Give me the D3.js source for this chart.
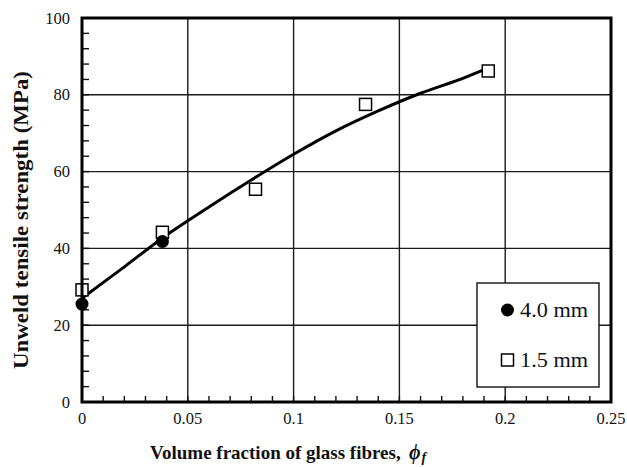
<!DOCTYPE html>
<html>
<head>
<meta charset="utf-8">
<script src="https://cdn.jsdelivr.net/npm/d3@7"></script>
<style>
  body { margin: 0; background: #fff; }
  text { font-family: "Liberation Serif", "Times New Roman", serif; fill: #111; }
</style>
</head>
<body>
<svg id="chart" width="627" height="467"></svg>
<script>
// data
const fibre4 = [[0, 25.5], [0.038, 41.8]];
const fibre15 = [[0, 29.2], [0.038, 44.2], [0.082, 55.4], [0.134, 77.5], [0.192, 86.2]];
const fitCurve = [[0, 27], [0.02, 35.2], [0.04, 43.5], [0.06, 50.8], [0.08, 57.8], [0.1, 64.5],
  [0.12, 70.6], [0.14, 75.8], [0.16, 80.4], [0.18, 84.3], [0.192, 87]];
const xTicks = [0, 0.05, 0.1, 0.15, 0.2, 0.25];
const yTicks = [0, 20, 40, 60, 80, 100];
const legendLabels = ['4.0 mm', '1.5 mm'];

const svg = d3.select('#chart');
const pLeft = 82, pRight = 611, pTop = 18, pBottom = 402;

const x = d3.scaleLinear().domain([0, 0.25]).range([pLeft, pRight]);
const y = d3.scaleLinear().domain([0, 100]).range([pBottom, pTop]);

// grid
svg.append('g')
  .selectAll('line')
  .data(xTicks.slice(1, -1))
  .join('line')
  .attr('x1', d => x(d)).attr('x2', d => x(d))
  .attr('y1', pTop).attr('y2', pBottom)
  .attr('stroke', '#1a1a1a').attr('stroke-width', 1.4);

svg.append('g')
  .selectAll('line')
  .data(yTicks.slice(1, -1))
  .join('line')
  .attr('x1', pLeft).attr('x2', pRight)
  .attr('y1', d => y(d)).attr('y2', d => y(d))
  .attr('stroke', '#1a1a1a').attr('stroke-width', 1.4);

// minor ticks, pointing inward
const xMinor = d3.range(0, 0.2501, 0.01);
const yMinor = d3.range(0, 100.01, 4);

svg.append('g')
  .selectAll('line')
  .data(xMinor)
  .join('line')
  .attr('x1', d => x(d)).attr('x2', d => x(d))
  .attr('y1', pBottom).attr('y2', pBottom - 6)
  .attr('stroke', '#111').attr('stroke-width', 1.4);

svg.append('g')
  .selectAll('line')
  .data(yMinor)
  .join('line')
  .attr('x1', pLeft).attr('x2', pLeft + 7)
  .attr('y1', d => y(d)).attr('y2', d => y(d))
  .attr('stroke', '#111').attr('stroke-width', 1.4);

// tick labels
svg.append('g')
  .selectAll('text')
  .data(xTicks)
  .join('text')
  .attr('x', d => x(d))
  .attr('y', 424)
  .attr('text-anchor', 'middle')
  .attr('font-size', 16.5)
  .text(d => d);

svg.append('g')
  .selectAll('text')
  .data(yTicks)
  .join('text')
  .attr('x', 70)
  .attr('y', d => y(d) + 5.5)
  .attr('text-anchor', 'end')
  .attr('font-size', 16.5)
  .text(d => d);

// fitted curve
svg.append('path')
  .datum(fitCurve)
  .attr('d', d3.line().x(d => x(d[0])).y(d => y(d[1])).curve(d3.curveCatmullRom))
  .attr('fill', 'none')
  .attr('stroke', '#000')
  .attr('stroke-width', 3);

// markers
svg.append('g')
  .selectAll('rect')
  .data(fibre15)
  .join('rect')
  .attr('x', d => x(d[0]) - 6)
  .attr('y', d => y(d[1]) - 6)
  .attr('width', 12).attr('height', 12)
  .attr('fill', '#fff')
  .attr('stroke', '#000').attr('stroke-width', 1.5);

svg.append('g')
  .selectAll('circle')
  .data(fibre4)
  .join('circle')
  .attr('cx', d => x(d[0]))
  .attr('cy', d => y(d[1]))
  .attr('r', 6.5)
  .attr('fill', '#000');

// frame
svg.append('rect')
  .attr('x', pLeft).attr('y', pTop)
  .attr('width', pRight - pLeft).attr('height', pBottom - pTop)
  .attr('fill', 'none')
  .attr('stroke', '#000').attr('stroke-width', 3);

// legend
const lg = svg.append('g');
lg.append('rect')
  .attr('x', 477).attr('y', 283)
  .attr('width', 122).attr('height', 104)
  .attr('fill', '#fff')
  .attr('stroke', '#111').attr('stroke-width', 1.4);
lg.append('circle').attr('cx', 507.5).attr('cy', 310).attr('r', 6.5).attr('fill', '#000');
lg.append('rect').attr('x', 501.5).attr('y', 354).attr('width', 12).attr('height', 12)
  .attr('fill', '#fff').attr('stroke', '#000').attr('stroke-width', 1.5);
lg.selectAll('text')
  .data(legendLabels)
  .join('text')
  .attr('x', 520)
  .attr('y', (d, i) => 317 + i * 50)
  .attr('font-size', 21)
  .attr('textLength', 68)
  .attr('lengthAdjust', 'spacingAndGlyphs')
  .text(d => d);

// axis titles
svg.append('text')
  .attr('x', 150)
  .attr('y', 459)
  .attr('font-size', 19)
  .attr('font-weight', 'bold')
  .text('Volume fraction of glass fibres,');

const phi = svg.append('text')
  .attr('x', 409)
  .attr('y', 459)
  .attr('font-size', 20)
  .attr('font-weight', 'bold')
  .attr('font-style', 'italic');
phi.append('tspan').text('ϕ');
phi.append('tspan').attr('font-size', 14).attr('dy', 3).attr('dx', 1).text('f');

svg.append('text')
  .attr('transform', 'translate(28,220) rotate(-90)')
  .attr('text-anchor', 'middle')
  .attr('font-size', 22)
  .attr('font-weight', 'bold')
  .attr('textLength', 298)
  .attr('lengthAdjust', 'spacingAndGlyphs')
  .text('Unweld tensile strength (MPa)');
</script>
</body>
</html>
